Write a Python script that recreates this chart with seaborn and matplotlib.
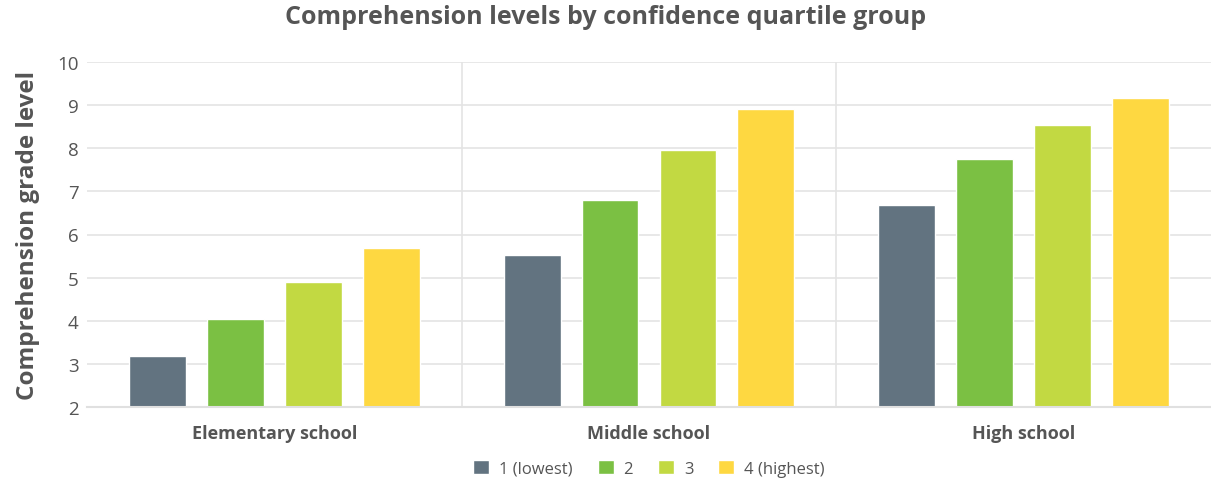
import matplotlib
matplotlib.use("Agg")
import matplotlib.pyplot as plt
import pandas as pd
import seaborn as sns

# datos
niveles = ["Elementary school", "Middle school", "High school"]
cuartiles = ["1 (lowest)", "2", "3", "4 (highest)"]
q1 = [3.18, 5.53, 6.69]
q2 = [4.04, 6.80, 7.75]
q3 = [4.91, 7.95, 8.53]
q4 = [5.68, 8.91, 9.16]
colores = ["#627380", "#7bc043", "#c2d942", "#fed841"]
y_ticks = [2, 3, 4, 5, 6, 7, 8, 9, 10]

df = pd.DataFrame({
    "nivel": niveles * 4,
    "cuartil": [c for c in cuartiles for _ in niveles],
    "valor": q1 + q2 + q3 + q4,
})

sns.set_style("white")
plt.rcParams["font.family"] = ["Open Sans", "DejaVu Sans"]
gris = "#555555"

fig = plt.figure(figsize=(12.11, 4.81), dpi=100)
ax = fig.add_axes([87 / 1211, 1 - 408 / 481, 1 - 87 / 1211, (408 - 63) / 481])

sns.barplot(
    data=df, x="nivel", y="valor", hue="cuartil",
    order=niveles, hue_order=cuartiles, palette=colores,
    width=0.832, gap=0.27, saturation=1, ax=ax, legend=True,
)

ax.set_ylim(2, 10)
ax.set_xlim(-0.5, 2.5)
ax.set_yticks(y_ticks)
ax.yaxis.grid(True, color="#e4e4e4", linewidth=1.2)
ax.set_axisbelow(True)
for xv in [0.5, 1.5]:
    ax.axvline(xv, color="#e4e4e4", linewidth=1.2, zorder=0)
for lado in ["left", "top", "right"]:
    ax.spines[lado].set_visible(False)
ax.spines["bottom"].set_color("#e0e0e0")
ax.spines["bottom"].set_linewidth(1.5)

ax.tick_params(axis="y", length=0, labelsize=13.5, labelcolor=gris, pad=6)
ax.tick_params(axis="x", length=0, labelsize=13, labelcolor=gris, pad=12)
for t in ax.get_xticklabels():
    t.set_fontweight("bold")

ax.set_xlabel("")
ax.set_ylabel("Comprehension grade level", fontsize=17.5, fontweight="bold",
              color=gris, labelpad=12)
fig.suptitle("Comprehension levels by confidence quartile group", fontsize=18,
             fontweight="bold", color=gris, y=0.99)

ax.legend(loc="upper center", bbox_to_anchor=(0.5, -0.11), ncol=4, frameon=False,
          fontsize=12, labelcolor=gris, handlelength=0.95, handleheight=0.95,
          handletextpad=0.6, columnspacing=1.5)

fig.savefig("out.png", dpi=100)
